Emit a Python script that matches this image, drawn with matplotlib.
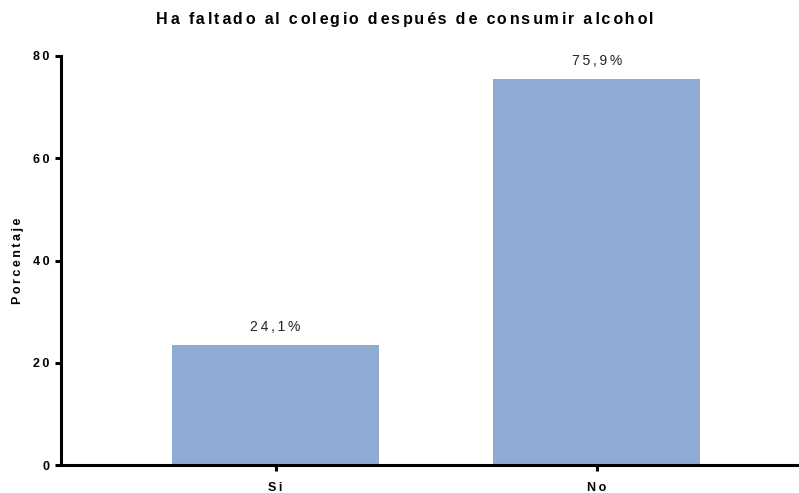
import matplotlib
matplotlib.use("Agg")
import matplotlib.pyplot as plt

plt.rcParams['font.family'] = ['Liberation Sans', 'DejaVu Sans']

# datos
categorias = ['Si', 'No']
alturas = [23.4, 75.5]
etiquetas = ['24,1%', '75,9%']
yticks = [0, 20, 40, 60, 80]
color_barra = '#8eabd3'

def sp(s, gaps=('\u2009',)):
    # simula el espaciado de letras del original
    out = s[0]
    for i, c in enumerate(s[1:]):
        out += gaps[i % len(gaps)] + c
    return out

fig = plt.figure(figsize=(7.99, 4.93), dpi=100)
ax = fig.add_axes([61/799, 28/493, 1 - 61/799, (465-56)/493])

x = list(range(len(categorias)))
ax.bar(x, alturas, width=0.645, color=color_barra, zorder=1)

for xi, h, t in zip(x, alturas, etiquetas):
    ax.annotate(sp(t), (xi, h), xytext=(0, 8), textcoords='offset points',
                ha='center', va='bottom', fontsize=10, color='#222222')

ax.set_xlim(-0.668, 1.63)
ax.set_ylim(0, 80)
ax.set_yticks(yticks)
ax.set_yticklabels([sp(str(v)) for v in yticks], fontsize=9, fontweight='bold')
ax.set_xticks(x)
ax.set_xticklabels([sp(c) for c in categorias], fontsize=9, fontweight='bold')

for s in ['top', 'right']:
    ax.spines[s].set_visible(False)
for s in ['left', 'bottom']:
    ax.spines[s].set_linewidth(2.2)
    ax.spines[s].set_zorder(3)
ax.tick_params(width=2.2, length=4.5, pad=4)
ax.tick_params(axis='x', pad=8)

ax.set_ylabel(sp('Porcentaje'), fontsize=9, fontweight='bold', labelpad=6)
fig.text(0.506, 0.961, sp('Ha faltado al colegio después de consumir alcohol',
                          gaps=('\u2009', '\u200a')),
         ha='center', va='center', fontsize=11.5, fontweight='bold')

fig.savefig('out.png', dpi=100)
